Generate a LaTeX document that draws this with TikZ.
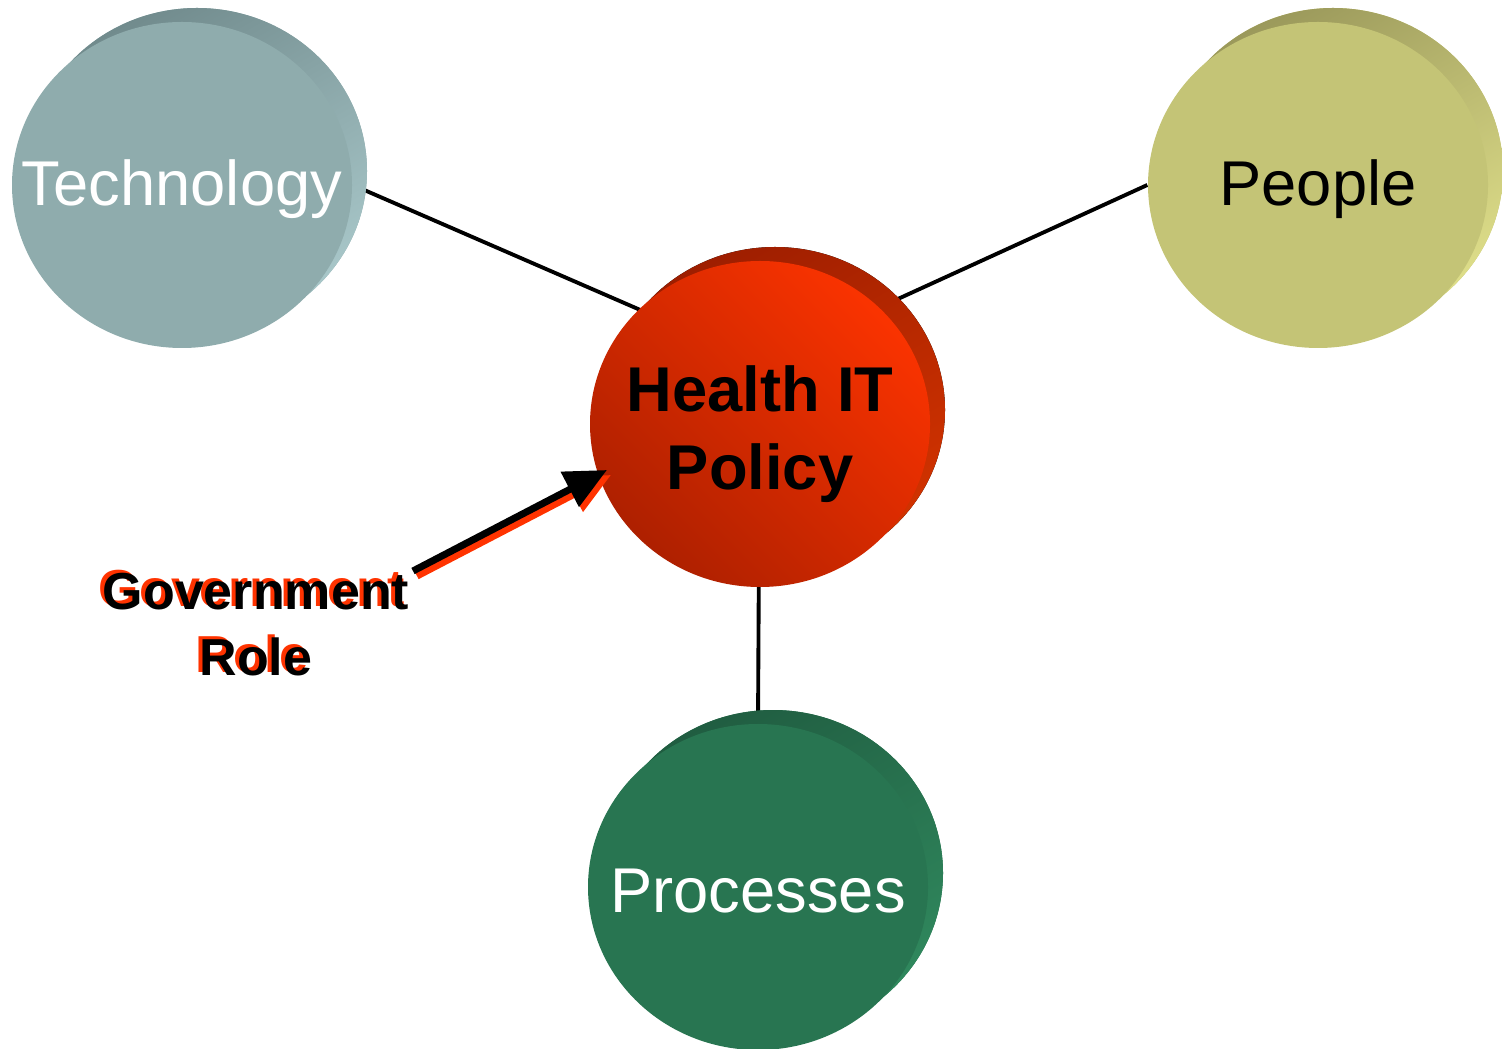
\documentclass[tikz,border=0pt]{standalone}
\usepackage{fontspec}
\setmainfont{Liberation Sans}
\usetikzlibrary{shapes.geometric,shadows,backgrounds,arrows.meta}

\definecolor{techfront}{HTML}{8FACAD}
\definecolor{techdark}{HTML}{718B8D}
\definecolor{techlight}{HTML}{A9C8CA}
\definecolor{peoplefront}{HTML}{C4C476}
\definecolor{peopledark}{HTML}{9B995B}
\definecolor{peoplelight}{HTML}{DFDF8A}
\definecolor{healthbright}{HTML}{FA3300}
\definecolor{healthdeep}{HTML}{AE2000}
\definecolor{healthdark}{HTML}{9E1E00}
\definecolor{healthlight}{HTML}{D23300}
\definecolor{procfront}{HTML}{287551}
\definecolor{procdark}{HTML}{205D41}
\definecolor{proclight}{HTML}{30895E}
\definecolor{govred}{HTML}{FF3300}

\tikzset{
  disk/.style={ellipse, minimum width=3.4cm, minimum height=3.26cm, inner sep=0pt},
  rim/.style 2 args={copy shadow={shadow xshift=.15cm, shadow yshift=.14cm, draw=none,
    top color=#1, bottom color=#2, shading angle=30}},
  disktext/.style={font=\fontsize{18}{22}\selectfont, align=center, yshift=-.4mm},
  govtext/.style={align=center, font=\bfseries\fontsize{14.8}{18.8}\selectfont},
  govarrow/.style={line width=2pt, -{Triangle[length=4.2mm,width=3.8mm]}}
}

\begin{document}
\begin{tikzpicture}
    \useasboundingbox (0,0) rectangle (15.02,-10.49);
    \node[disk, rim={techdark}{techlight}, fill=techfront,
      label={[disktext, text=white]center:Technology}] (tech) at (1.82,-1.85) {};
    \node[disk, rim={peopledark}{peoplelight}, fill=peoplefront,
      label={[disktext]center:People}] (people) at (13.18,-1.85) {};
    \node[disk, rim={procdark}{proclight}, fill=procfront,
      label={[disktext, text=white]center:Processes}] (proc) at (7.58,-8.87) {};
    \node[disk, rim={healthdark}{healthlight}, top color=healthbright, bottom color=healthdeep,
      shading angle=-45,
      label={[disktext, font=\bfseries\fontsize{18}{22}\selectfont, yshift=-.6mm]center:Health IT\\Policy}] (health) at (7.60,-4.24) {};
    \begin{pgfonlayer}{background}
    \draw[line width=1.1pt] (tech.east) -- ([yshift=.62cm]health.center);
    \draw[line width=1.1pt] (people.west) -- ([yshift=.62cm]health.center);
    \draw[line width=1.1pt] (proc.north) -- ([yshift=.62cm]health.center);
    \end{pgfonlayer}
    \node[govtext, text=govred] (govshade) at (2.52,-6.22) {Government\\Role};
    \node[govtext] (gov) at (2.56,-6.25) {Government\\Role};
    \coordinate (govfoot) at (4.13,-5.71);
    \coordinate (govtip) at (6.07,-4.70);
    \draw[govarrow, govred] ([shift={(.04,-.05)}]govfoot) -- ([shift={(.04,-.05)}]govtip);
    \draw[govarrow] (govfoot) -- (govtip);
\end{tikzpicture}
\end{document}
